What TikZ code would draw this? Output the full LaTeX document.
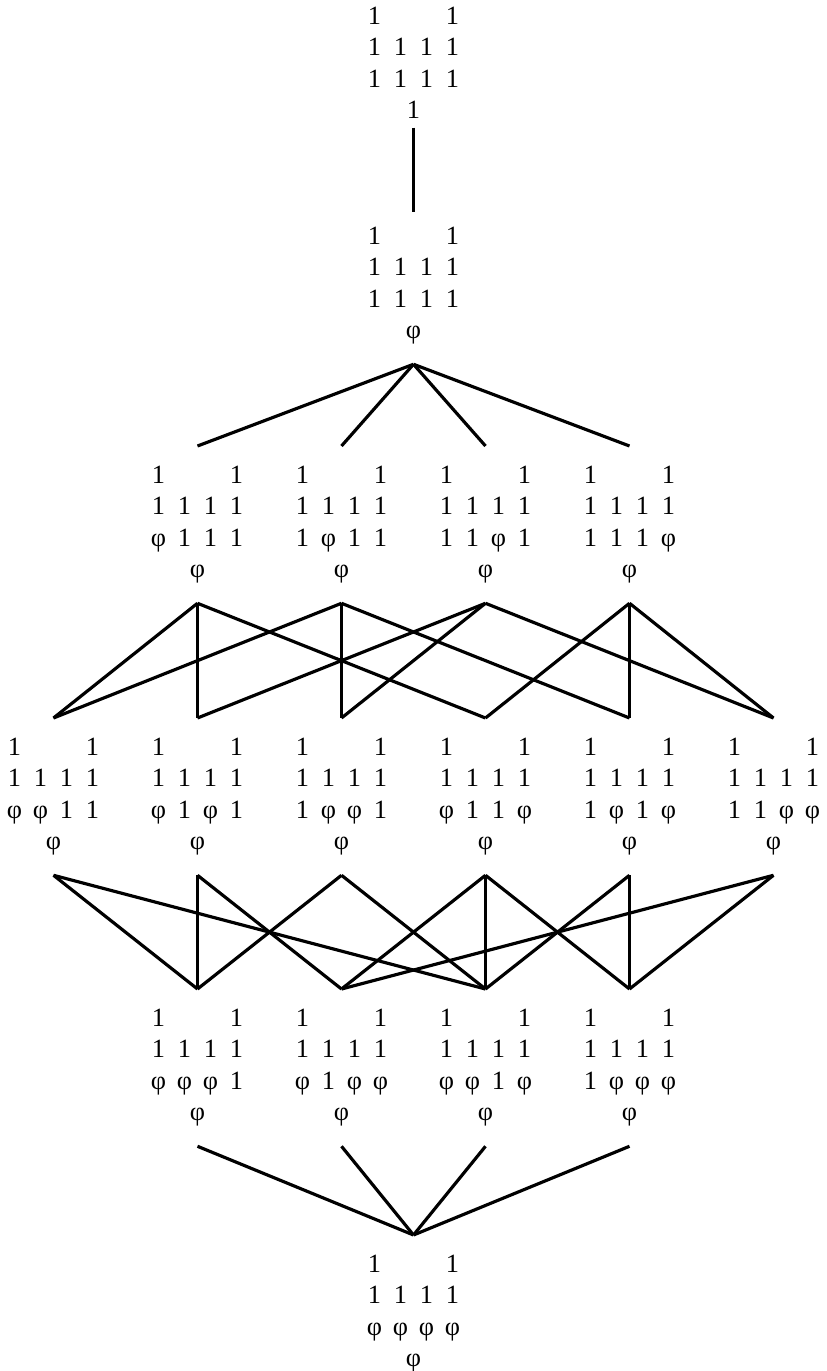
\documentclass[tikz,border=0pt]{standalone}
\usepackage{fontspec}
\setmainfont{Liberation Serif}
\newlength{\colw}
\setlength{\colw}{0.52cm}
\newcommand{\cells}[4]{\makebox[\colw]{#1}\makebox[\colw]{#2}\makebox[\colw]{#3}\makebox[\colw]{#4}}
\newcommand{\ph}{φ}

\begin{document}
\begin{tikzpicture}[
 pat/.style={anchor=north,align=center,inner xsep=0pt,inner ysep=11pt,
 font=\fontsize{15}{18}\selectfont},
 link/.style={line width=1.8pt},
 vlink/.style={line width=1.2pt}]
 \useasboundingbox (0,0) rectangle (16.54,-27.42);
 \node[pat] (top) at (8.27,0.26) {\cells1{}{}1\\\cells1111\\\cells1111\\1};
 \node[pat] (s0) at (8.27,-4.14) {\cells1{}{}1\\\cells1111\\\cells1111\\\ph};
 \node[pat] (s1) at (3.95,-8.92) {\cells1{}{}1\\\cells1111\\\cells\ph111\\\ph};
 \node[pat] (s2) at (6.83,-8.92) {\cells1{}{}1\\\cells1111\\\cells1\ph11\\\ph};
 \node[pat] (s3) at (9.71,-8.92) {\cells1{}{}1\\\cells1111\\\cells11\ph1\\\ph};
 \node[pat] (s4) at (12.59,-8.92) {\cells1{}{}1\\\cells1111\\\cells111\ph\\\ph};
 \node[pat] (s12) at (1.07,-14.36) {\cells1{}{}1\\\cells1111\\\cells\ph\ph11\\\ph};
 \node[pat] (s13) at (3.95,-14.36) {\cells1{}{}1\\\cells1111\\\cells\ph1\ph1\\\ph};
 \node[pat] (s23) at (6.83,-14.36) {\cells1{}{}1\\\cells1111\\\cells1\ph\ph1\\\ph};
 \node[pat] (s14) at (9.71,-14.36) {\cells1{}{}1\\\cells1111\\\cells\ph11\ph\\\ph};
 \node[pat] (s24) at (12.59,-14.36) {\cells1{}{}1\\\cells1111\\\cells1\ph1\ph\\\ph};
 \node[pat] (s34) at (15.47,-14.36) {\cells1{}{}1\\\cells1111\\\cells11\ph\ph\\\ph};
 \node[pat] (s123) at (3.95,-19.78) {\cells1{}{}1\\\cells1111\\\cells\ph\ph\ph1\\\ph};
 \node[pat] (s134) at (6.83,-19.78) {\cells1{}{}1\\\cells1111\\\cells\ph1\ph\ph\\\ph};
 \node[pat] (s124) at (9.71,-19.78) {\cells1{}{}1\\\cells1111\\\cells\ph\ph1\ph\\\ph};
 \node[pat] (s234) at (12.59,-19.78) {\cells1{}{}1\\\cells1111\\\cells1\ph\ph\ph\\\ph};
 \node[pat] (s1234) at (8.27,-24.7) {\cells1{}{}1\\\cells1111\\\cells\ph\ph\ph\ph\\\ph};
 \draw[vlink,shorten <=-0.22cm,shorten >=-0.1cm] (top.south)--(s0.north);
 \foreach \n in {s1,s2,s3,s4}
  \draw[link] (s0.south)--(\n.north);
 \foreach \a/\b in {s1/s12,s1/s14,s2/s12,s2/s24,s3/s13,s3/s23,s3/s34,s4/s14,s4/s34}
  \draw[link] (\a.south)--(\b.north);
 \foreach \a/\b in {s1/s13,s2/s23,s4/s24}
  \draw[vlink] (\a.south)--(\b.north);
 \foreach \a/\b in {s12/s123,s12/s124,s13/s134,s23/s123,s23/s124,s14/s134,s14/s234,s24/s124,s34/s134,s34/s234}
  \draw[link] (\a.south)--(\b.north);
 \foreach \a/\b in {s13/s123,s14/s124,s24/s234}
  \draw[vlink] (\a.south)--(\b.north);
 \foreach \n in {s123,s134,s124,s234}
  \draw[link] (\n.south)--(s1234.north);
\end{tikzpicture}
\end{document}
